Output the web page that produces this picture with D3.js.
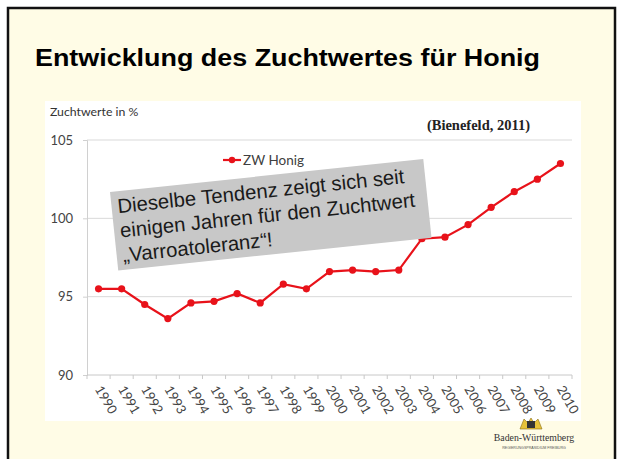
<!DOCTYPE html>
<html>
<head>
<meta charset="utf-8">
<script src="https://cdn.jsdelivr.net/npm/d3@7"></script>
<style>
  html, body { margin: 0; padding: 0; background: #fff; }
  svg { display: block; }
</style>
</head>
<body>
<svg id="chart" width="618" height="459"></svg>
<script>
// data
const years = ["1990", "1991", "1992", "1993", "1994", "1995", "1996", "1997", "1998", "1999", "2000",
  "2001", "2002", "2003", "2004", "2005", "2006", "2007", "2008", "2009", "2010"];
const zwHonig = [95.5, 95.5, 94.5, 93.6, 94.6, 94.7, 95.2, 94.6, 95.8, 95.5, 96.6,
  96.7, 96.6, 96.7, 98.7, 98.8, 99.6, 100.7, 101.7, 102.5, 103.5];
const yTicks = [90, 95, 100, 105];
const boxLines = ["Dieselbe Tendenz zeigt sich seit", "einigen Jahren für den Zuchtwert", "„Varroatoleranz“!"];

const svg = d3.select("#chart");

// slide background + frame
svg.append("rect")
  .attr("x", 8).attr("y", 8)
  .attr("width", 607).attr("height", 460)
  .attr("fill", "#fffce6")
  .attr("stroke", "#111")
  .attr("stroke-width", 2.5);

svg.append("text")
  .attr("x", 35).attr("y", 66)
  .attr("font-family", "Liberation Sans, Arial, sans-serif")
  .attr("font-weight", "bold")
  .attr("font-size", 23)
  .attr("textLength", 505)
  .attr("lengthAdjust", "spacingAndGlyphs")
  .attr("fill", "#000")
  .text("Entwicklung des Zuchtwertes für Honig");

// white chart panel
svg.append("rect")
  .attr("x", 45).attr("y", 101)
  .attr("width", 536).attr("height", 320)
  .attr("fill", "#fff");

const x = d3.scaleBand().domain(years).range([87, 572]);
const y = d3.scaleLinear().domain([90, 105]).range([375, 140]);

const chartFont = "Lato, 'Open Sans', sans-serif";

svg.append("text")
  .attr("x", 50).attr("y", 116)
  .attr("font-family", chartFont)
  .attr("font-size", 12.3)
  .attr("fill", "#333")
  .text("Zuchtwerte in %");

// gridlines
svg.append("g")
  .selectAll("line")
  .data(yTicks.filter(d => d > 90))
  .join("line")
  .attr("x1", 87).attr("x2", 572)
  .attr("y1", d => y(d)).attr("y2", d => y(d))
  .attr("stroke", "#d9d9d9")
  .attr("stroke-width", 1);

// y axis
const yAxis = svg.append("g")
  .attr("transform", "translate(87,0)")
  .call(d3.axisLeft(y).tickValues(yTicks).tickSize(4).tickPadding(10));
yAxis.select(".domain").attr("stroke", "#d0d0d0");
yAxis.selectAll(".tick line").attr("stroke", "#d0d0d0");
yAxis.selectAll(".tick text")
  .attr("font-family", chartFont)
  .attr("font-size", 13)
  .attr("fill", "#444");

// x axis: ticks on category boundaries
const xAxis = svg.append("g").attr("transform", `translate(0,${y(90)})`);
xAxis.append("line")
  .attr("x1", 87).attr("x2", 572)
  .attr("stroke", "#c8c8c8");
xAxis.selectAll(".xt")
  .data(years.concat(["end"]))
  .join("line")
  .attr("class", "xt")
  .attr("x1", (d, i) => i < years.length ? x(d) : x.range()[1])
  .attr("x2", (d, i) => i < years.length ? x(d) : x.range()[1])
  .attr("y1", 0).attr("y2", 4)
  .attr("stroke", "#c8c8c8");
xAxis.selectAll(".xl")
  .data(years)
  .join("text")
  .attr("class", "xl")
  .attr("transform", d => `translate(${x(d) + x.bandwidth() / 2 - 1},10) rotate(60)`)
  .attr("x", 2)
  .attr("dy", "0.35em")
  .attr("font-family", chartFont)
  .attr("font-size", 13)
  .attr("fill", "#444")
  .text(d => d);

// the series
const cx = d => x(d) + x.bandwidth() / 2;
const line = d3.line()
  .x((d, i) => cx(years[i]))
  .y(d => y(d));

svg.append("path")
  .datum(zwHonig)
  .attr("d", line)
  .attr("fill", "none")
  .attr("stroke", "#e8121a")
  .attr("stroke-width", 2.2);

svg.append("g")
  .selectAll("circle")
  .data(zwHonig)
  .join("circle")
  .attr("cx", (d, i) => cx(years[i]))
  .attr("cy", d => y(d))
  .attr("r", 3.6)
  .attr("fill", "#e8121a");

// legend
const leg = svg.append("g").attr("transform", "translate(223,160)");
leg.append("line").attr("x1", 0).attr("x2", 18).attr("stroke", "#e8121a").attr("stroke-width", 2.2);
leg.append("circle").attr("cx", 9).attr("r", 3.2).attr("fill", "#e8121a");
leg.append("text")
  .attr("x", 20).attr("y", 4.5)
  .attr("font-family", chartFont)
  .attr("font-size", 13.5)
  .attr("fill", "#404040")
  .text("ZW Honig");

// source
svg.append("text")
  .attr("x", 530).attr("y", 130)
  .attr("text-anchor", "end")
  .attr("font-family", "Liberation Serif, 'Times New Roman', serif")
  .attr("font-weight", "bold")
  .attr("font-size", 14.5)
  .attr("fill", "#222")
  .text("(Bienefeld, 2011)");

// grey annotation box
const box = svg.append("g").attr("transform", "translate(110,192) rotate(-6)");
box.append("rect")
  .attr("width", 315).attr("height", 79)
  .attr("fill", "#c8c8c8");
box.selectAll("text")
  .data(boxLines)
  .join("text")
  .attr("x", 6)
  .attr("y", (d, i) => 22 + i * 24.5)
  .attr("font-family", "Liberation Sans, Arial, sans-serif")
  .attr("font-size", 20.3)
  .attr("fill", "#1a1a1a")
  .text(d => d);

// Baden-Württemberg logo
const logo = svg.append("g");
logo.append("path")
  .attr("d", "M520,429 L524,419 L528,423 L531,418 L534,423 L538,419 L542,429 Z")
  .attr("fill", "#e6c23a")
  .attr("stroke", "#8a6d12")
  .attr("stroke-width", 0.6);
logo.append("rect")
  .attr("x", 527).attr("y", 421).attr("width", 8).attr("height", 7)
  .attr("fill", "#333");
logo.append("text")
  .attr("x", 534).attr("y", 441)
  .attr("text-anchor", "middle")
  .attr("font-family", "Liberation Serif, serif")
  .attr("font-size", 9.8)
  .attr("fill", "#333")
  .text("Baden-Württemberg");
logo.append("text")
  .attr("x", 534).attr("y", 449)
  .attr("text-anchor", "middle")
  .attr("font-family", "Liberation Sans, sans-serif")
  .attr("font-size", 3.6)
  .attr("fill", "#555")
  .text("REGIERUNGSPRÄSIDIUM FREIBURG");
</script>
</body>
</html>
